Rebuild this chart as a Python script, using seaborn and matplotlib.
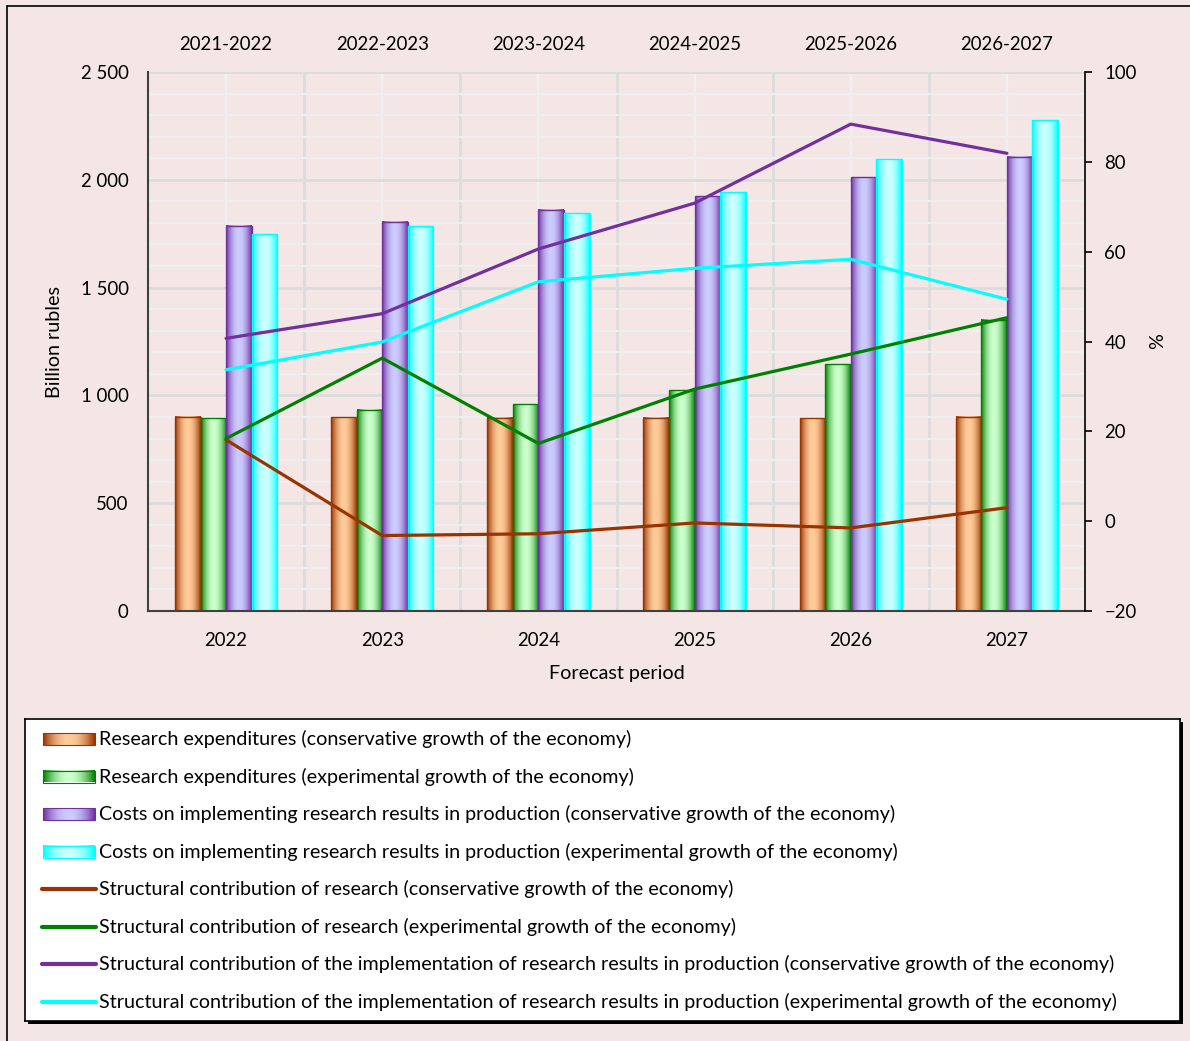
import numpy as np
import pandas as pd
import matplotlib
matplotlib.use("Agg")
import matplotlib.pyplot as plt
import seaborn as sns
from matplotlib.colors import to_rgb
from matplotlib.lines import Line2D
from matplotlib.patches import Rectangle
from matplotlib.ticker import FuncFormatter, MultipleLocator

# ---------------- data ----------------
years = ["2022", "2023", "2024", "2025", "2026", "2027"]
periods = ["2021-2022", "2022-2023", "2023-2024", "2024-2025", "2025-2026", "2026-2027"]

research_cons = [901, 898, 897, 897, 894, 900]
research_exp = [893, 934, 960, 1024, 1144, 1351]
impl_cons = [1787, 1806, 1860, 1923, 2012, 2107]
impl_exp = [1747, 1784, 1845, 1943, 2095, 2277]

contrib_research_cons = [18.1, -3.2, -2.8, -0.4, -1.5, 3.0]
contrib_research_exp = [18.4, 36.3, 17.3, 29.4, 37.2, 45.3]
contrib_impl_cons = [40.7, 46.2, 60.6, 70.8, 88.4, 81.9]
contrib_impl_exp = [33.7, 39.9, 53.3, 56.3, 58.3, 49.4]

bar_labels = [
    "Research expenditures (conservative growth of the economy)",
    "Research expenditures (experimental growth of the economy)",
    "Costs on implementing research results in production (conservative growth of the economy)",
    "Costs on implementing research results in production (experimental growth of the economy)",
]
line_labels = [
    "Structural contribution of research (conservative growth of the economy)",
    "Structural contribution of research (experimental growth of the economy)",
    "Structural contribution of the implementation of research results in production (conservative growth of the economy)",
    "Structural contribution of the implementation of research results in production (experimental growth of the economy)",
]

bar_dark = ["#993300", "#008000", "#7030A0", "#00FFFF"]
bar_light = ["#FFCC99", "#CCFFCC", "#CCCCFF", "#CCFFFF"]
line_colors = ["#993300", "#008000", "#7030A0", "#00FFFF"]

BG = "#F5E6E6"
TICK_FS = 13.4
TEXT_FS = 14.2

# ---------------- style ----------------
sns.set_style("white")
plt.rcParams["font.family"] = ["Lato", "DejaVu Sans"]
plt.rcParams["font.size"] = TEXT_FS
plt.rcParams["xtick.labelsize"] = TICK_FS
plt.rcParams["ytick.labelsize"] = TICK_FS
plt.rcParams["axes.labelsize"] = TEXT_FS
plt.rcParams["text.color"] = "black"
plt.rcParams["axes.labelcolor"] = "black"
plt.rcParams["xtick.color"] = "black"
plt.rcParams["ytick.color"] = "black"

W, H = 1190, 1041
fig = plt.figure(figsize=(W / 100, H / 100), dpi=100, facecolor=BG)

ax = fig.add_axes([148 / W, 1 - 611 / H, 937 / W, 539 / H])
ax.set_facecolor(BG)

df = pd.DataFrame({
    "year": years * 4,
    "value": research_cons + research_exp + impl_cons + impl_exp,
    "series": np.repeat(bar_labels, len(years)),
})

sns.barplot(data=df, x="year", y="value", hue="series", hue_order=bar_labels,
            palette=dict(zip(bar_labels, bar_light)), width=0.655, dodge=True,
            saturation=1, ax=ax, legend=False, errorbar=None)


def gradient(light, dark, n=64, p=2.0):
    t = np.linspace(0, 1, n)
    s = np.abs(2 * t - 1) ** p
    l = np.array(to_rgb(light))
    d = np.array(to_rgb(dark))
    return (l[None, :] * (1 - s[:, None]) + d[None, :] * s[:, None])[None, :, :]


for cont, light, dark in zip(ax.containers, bar_light, bar_dark):
    for bar in cont:
        x, y, w, h = bar.get_x(), bar.get_y(), bar.get_width(), bar.get_height()
        ax.imshow(gradient(light, dark), extent=[x, x + w, y, y + h], aspect="auto",
                  interpolation="bilinear", zorder=1.5)
        bar.set_facecolor("none")
        bar.set_edgecolor(dark)
        bar.set_linewidth(1.0)
        bar.set_zorder(2)

ax.set_xlim(-0.5, len(years) - 0.5)
ax.set_ylim(0, 2500)
ax.set_yticks(np.arange(0, 2501, 500))
ax.yaxis.set_minor_locator(MultipleLocator(100))
ax.yaxis.set_major_formatter(FuncFormatter(lambda v, p: f"{int(v):,}".replace(",", " ")))
ax.set_xticks(np.arange(len(years)))
ax.set_xticklabels(years)
ax.set_xticks(np.arange(len(years) - 1) + 0.5, minor=True)

ax.set_axisbelow(True)
ax.yaxis.grid(True, which="major", color="#DCDCDC", lw=2.0)
ax.yaxis.grid(True, which="minor", color="#EEEEEE", lw=1.6)
ax.xaxis.grid(True, which="minor", color="#DCDCDC", lw=2.0)
ax.xaxis.grid(True, which="major", color="#F0F0F0", lw=1.6)
ax.tick_params(axis="both", which="both", length=0)
ax.tick_params(axis="y", pad=14)
ax.tick_params(axis="x", pad=15)

for side in ["top", "right"]:
    ax.spines[side].set_visible(False)
for side in ["left", "bottom"]:
    ax.spines[side].set_color("#404040")
    ax.spines[side].set_linewidth(1.5)

ax.set_xlabel("Forecast period")
ax.set_ylabel("Billion rubles")
ax.xaxis.set_label_coords(0.5, -(673 - 611) / 539)
ax.yaxis.set_label_coords((55 - 148) / 937, 0.5)
ax.xaxis.label.set_va("center")
ax.yaxis.label.set_va("center")

# top period labels
secax = ax.secondary_xaxis("top")
secax.set_xticks(np.arange(len(periods)), periods)
secax.tick_params(length=0, pad=14, labelsize=TICK_FS)
secax.spines["top"].set_visible(False)

# ---------------- lines on right axis ----------------
ax2 = ax.twinx()
xpos = np.arange(len(years))
for vals, col, lab in zip([contrib_research_cons, contrib_research_exp,
                           contrib_impl_cons, contrib_impl_exp], line_colors, line_labels):
    sns.lineplot(x=xpos, y=vals, color=col, lw=2.3, ax=ax2, label=lab, legend=False)
ax2.set_ylim(-20, 100)
ax2.set_yticks(np.arange(-20, 101, 20))
ax2.set_xlim(-0.5, len(years) - 0.5)
for side in ["top", "left", "bottom"]:
    ax2.spines[side].set_visible(False)
ax2.spines["right"].set_color("black")
ax2.spines["right"].set_linewidth(1.2)
ax2.tick_params(axis="y", direction="out", length=5, width=1.2, color="black", pad=9)
ax2.set_ylabel("%", rotation=90, va="center")
ax2.yaxis.set_label_coords((1158 - 148) / 937, 0.5)

# ---------------- manual legend ----------------
lx0, lx1, ly0, ly1 = 25, 1180, 719, 1021
shadow = Rectangle(((lx0 + 3) / W, 1 - (ly1 + 3) / H), (lx1 - lx0) / W, (ly1 - ly0) / H,
                   transform=fig.transFigure, facecolor="black", edgecolor="none", zorder=-1)
fig.add_artist(shadow)
lax = fig.add_axes([lx0 / W, 1 - ly1 / H, (lx1 - lx0) / W, (ly1 - ly0) / H])
lax.set_facecolor("white")
lax.set_xlim(lx0, lx1)
lax.set_ylim(ly1, ly0)
lax.set_xticks([])
lax.set_yticks([])
for s in lax.spines.values():
    s.set_color("black")
    s.set_linewidth(1.2)

row0, step = 739, 37.5
labels_all = bar_labels + line_labels
for i, lab in enumerate(labels_all):
    yc = row0 + i * step
    if i < 4:
        lax.imshow(gradient(bar_light[i], bar_dark[i]), extent=[43, 95, yc + 6, yc - 6],
                   aspect="auto", interpolation="bilinear")
        lax.add_patch(Rectangle((43, yc - 6), 52, 12, facecolor="none",
                                edgecolor=bar_dark[i], lw=0.8))
    else:
        lax.plot([42, 96], [yc, yc], color=line_colors[i - 4], lw=3, solid_capstyle="round")
    lax.text(99, yc, lab, va="center", ha="left", fontsize=TEXT_FS)
lax.set_xlim(lx0, lx1)
lax.set_ylim(ly1, ly0)

# outer frame (top and left edges)
fig.add_artist(Line2D([7 / W, 1], [1 - 6 / H, 1 - 6 / H], transform=fig.transFigure,
                      color="black", lw=1.2))
fig.add_artist(Line2D([7 / W, 7 / W], [0, 1 - 6 / H], transform=fig.transFigure,
                      color="black", lw=1.2))

fig.savefig("out.png", dpi=100, facecolor=BG)
